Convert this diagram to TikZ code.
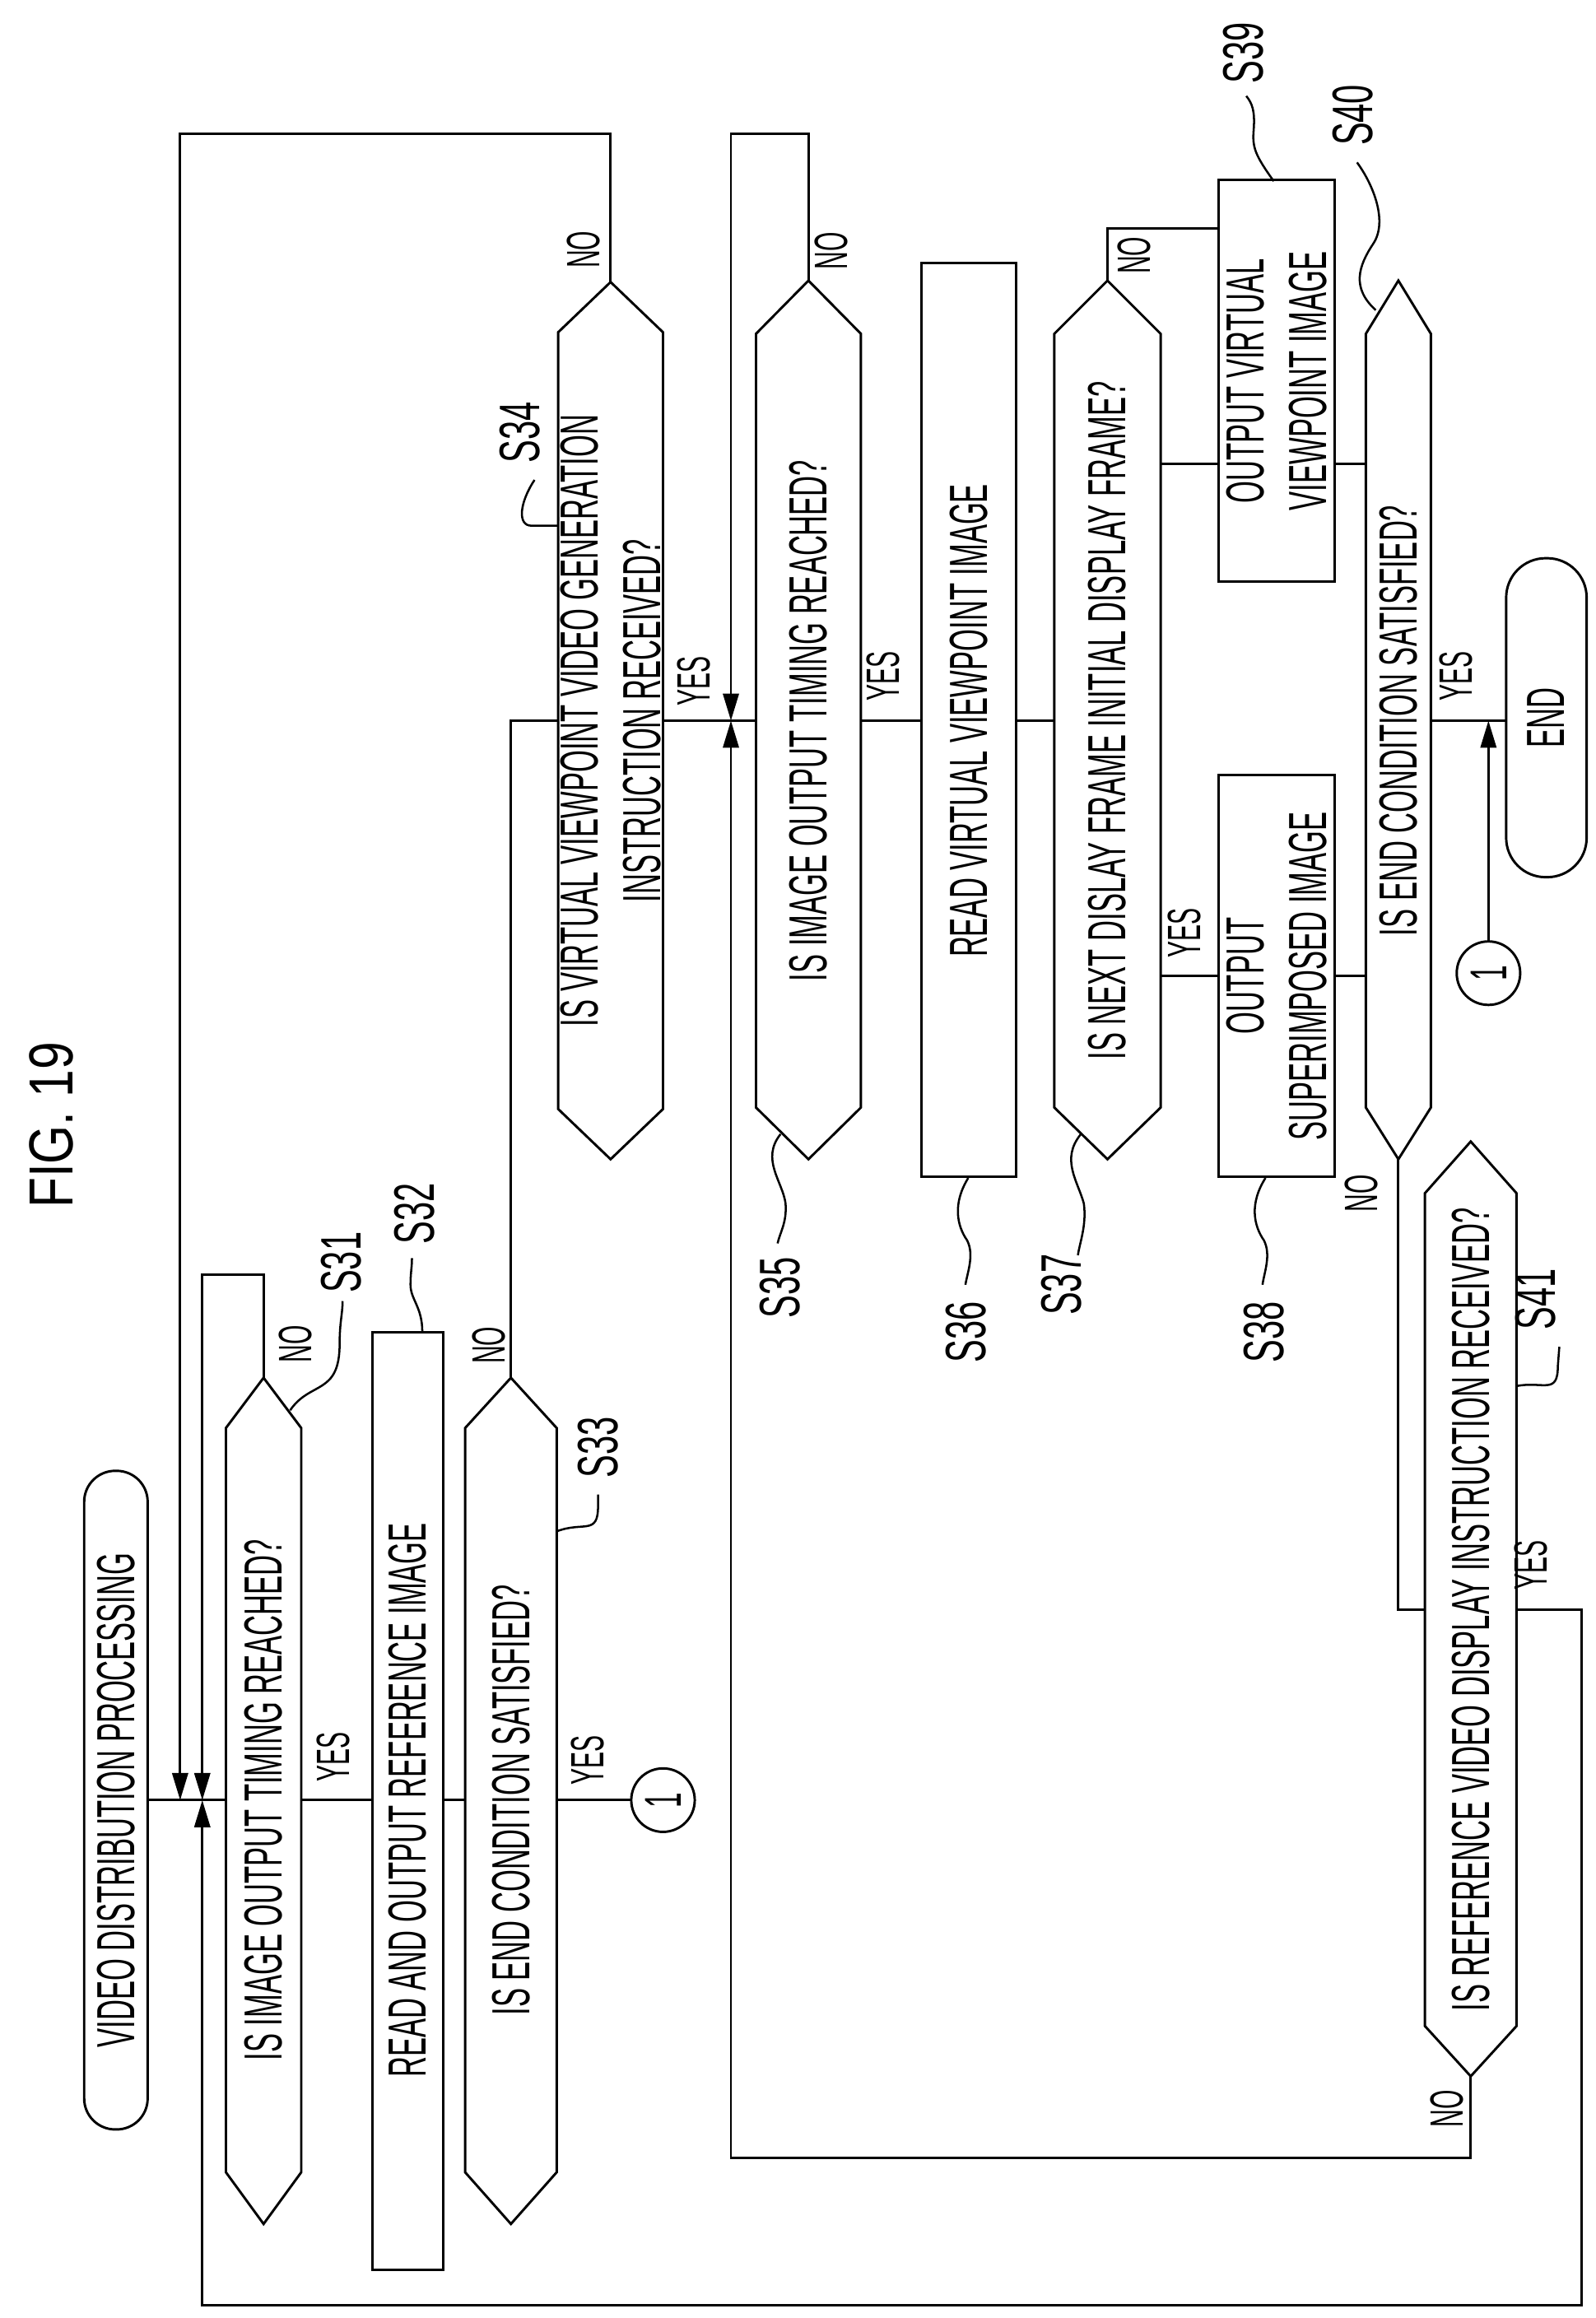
\documentclass[tikz,border=0pt]{standalone}
\usepackage{fontspec}
\usetikzlibrary{arrows.meta}
\newfontfamily\cf[FakeStretch=0.53]{Liberation Sans}
\newfontfamily\lf[FakeStretch=0.6]{Liberation Sans}
\newfontfamily\tf[FakeStretch=0.8]{Liberation Sans}
\tikzset{
  ln/.style={line width=1.4pt},
  arr/.style={ln,-{Triangle[length=0.55cm,width=0.32cm]}},
  txt/.style={rotate=90,font=\cf\fontsize{31}{36}\selectfont,align=center,inner sep=0pt},
  yn/.style={rotate=90,font=\cf\fontsize{27}{30}\selectfont,inner sep=0pt},
  lab/.style={rotate=90,font=\lf\fontsize{33}{36}\selectfont,inner sep=0pt},
  squig/.style={line width=1.2pt}
}
\newcommand\hexa[7]{%
  \draw[ln] ({(#2+#3)/2},#4) -- (#3,#5) -- (#3,#6) -- ({(#2+#3)/2},#7) -- (#2,#6) -- (#2,#5) -- cycle;
  \coordinate (#1t) at ({(#2+#3)/2},#4);
  \coordinate (#1b) at ({(#2+#3)/2},#7);}
\begin{document}
\begin{tikzpicture}[x=0.03cm,y=-0.03cm]
\useasboundingbox (0,0) rectangle (1080.3,1569.7);
\node[rotate=90,font=\tf\fontsize{36}{40}\selectfont] (title) at (35,762) {FIG. 19};
% shapes
\draw[ln,rounded corners=0.63cm] (57,996) rectangle (100,1442);
\node[txt] (start) at (78.5,1219) {VIDEO DISTRIBUTION PROCESSING};
\hexa{h31}{153}{204}{933}{967}{1471}{1506}
\node[txt] (s31) at (178.5,1219) {IS IMAGE OUTPUT TIMING REACHED?};
\draw[ln] (252,902) rectangle (300,1537);
\node[txt] (s32) at (276,1219) {READ AND OUTPUT REFERENCE IMAGE};
\hexa{h33}{315}{377}{933}{967}{1471}{1506}
\node[txt] (s33) at (346,1219) {IS END CONDITION SATISFIED?};
\draw[ln] (449,1219) circle (21.5);
\node[yn,font=\cf\fontsize{30}{30}\selectfont] (c1) at (449,1219) {1};
\hexa{h34}{378}{449}{191}{225}{751}{785}
\node[txt] (s34) at (413.5,488) {IS VIRTUAL VIEWPOINT VIDEO GENERATION\\INSTRUCTION RECEIVED?};
\hexa{h35}{512}{583}{190}{226}{750}{785}
\node[txt] (s35) at (547.5,488) {IS IMAGE OUTPUT TIMING REACHED?};
\draw[ln] (624,178) rectangle (688,797);
\node[txt] (s36) at (656,488) {READ VIRTUAL VIEWPOINT IMAGE};
\hexa{h37}{714}{786}{190}{226}{750}{785}
\node[txt] (s37) at (750,488) {IS NEXT DISLAY FRAME INITIAL DISPLAY FRAME?};
\draw[ln] (825,525) rectangle (904,797);
\node[txt] (s38) at (864.5,661) {OUTPUT\\SUPERIMPOSED IMAGE};
\draw[ln] (825,122) rectangle (904,394);
\node[txt] (s39) at (864.5,258) {OUTPUT VIRTUAL\\VIEWPOINT IMAGE};
\hexa{h40}{925}{969}{190}{226}{750}{785}
\node[txt] (s40) at (947,488) {IS END CONDITION SATISFIED?};
\draw[ln,rounded corners=0.8cm] (1020,378) rectangle (1074.5,594);
\node[txt] (endn) at (1047,486) {END};
\draw[ln] (1008,659) circle (21.5);
\node[yn,font=\cf\fontsize{30}{30}\selectfont] (c2) at (1008,659) {1};
\hexa{h41}{965}{1027}{773}{808}{1372}{1406}
\node[txt] (s41) at (996,1090) {IS REFERENCE VIDEO DISPLAY INSTRUCTION RECEIVED?};
% connectors
\draw[ln] (100,1219) -- (153,1219);
\draw[arr] (h34t) -- (413.5,90.5) -- (122,90.5) -- (122,1219);
\draw[arr] (h31t) -- (178.5,863) -- (137,863) -- (137,1219);
\draw[arr] (1027,1090) -- (1071,1090) -- (1071,1561) -- (137,1561) -- (137,1219);
\draw[ln] (204,1219) -- (252,1219);
\draw[ln] (300,1219) -- (315,1219);
\draw[ln] (377,1219) -- (427.5,1219);
\draw[ln] (h33t) -- (346,488) -- (378,488);
\draw[ln] (449,488) -- (512,488);
\draw[arr] (h35t) -- (547.5,90.5) -- (495,90.5) -- (495,488);
\draw[arr] (h41b) -- (996,1461) -- (495,1461) -- (495,488);
\draw[ln] (583,488) -- (624,488);
\draw[ln] (688,488) -- (714,488);
\draw[ln] (h37t) -- (750,154.6) -- (825,154.6);
\draw[ln] (786,314) -- (825,314);
\draw[ln] (786,661) -- (825,661);
\draw[ln] (904,314) -- (925,314);
\draw[ln] (904,661) -- (925,661);
\draw[ln] (969,488) -- (1020,488);
\draw[arr] (1008,637.5) -- (1008,488);
\draw[ln] (h40b) -- (947,1090) -- (965,1090);
% yes/no
\node[yn] at (200,910) {NO};
\node[yn] at (226,1190) {YES};
\node[yn] at (331,911) {NO};
\node[yn] at (398,1192) {YES};
\node[yn] at (395,169) {NO};
\node[yn] at (470,461) {YES};
\node[yn] at (563,170) {NO};
\node[yn] at (598,458) {YES};
\node[yn] at (768,173) {NO};
\node[yn] at (802,632) {YES};
\node[yn] at (986,458) {YES};
\node[yn] at (922,808) {NO};
\node[yn] at (1037,1060) {YES};
\node[yn] at (980,1428) {NO};
% step labels
\node[lab] (l31) at (231,855) {S31};
\draw[squig] (196.5,955) .. controls (210,935) and (230,945) .. (230,910) .. controls (230,895) and (232,890) .. (232,881);
\node[lab] (l32) at (281,822) {S32};
\draw[squig] (286,902) .. controls (286,885) and (278,880) .. (278,870) .. controls (278,862) and (279,858) .. (279,852);
\node[lab] (l33) at (405,980) {S33};
\draw[squig] (377,1037) .. controls (395,1030) and (405,1040) .. (405,1020) -- (405,1012);
\node[lab] (l34) at (352,293) {S34};
\draw[squig] (378,356) -- (360,356) .. controls (350,356) and (352,340) .. (362,325);
\node[lab] (l35) at (528,872) {S35};
\draw[squig] (528.6,768) .. controls (515,785) and (530,800) .. (532,815) .. controls (533,828) and (528,835) .. (526.6,842);
\node[lab] (l36) at (654,902) {S36};
\draw[squig] (655.7,797.7) .. controls (645,815) and (648,830) .. (655,840) .. controls (660,850) and (655,862) .. (653.8,870);
\node[lab] (l37) at (719,870) {S37};
\draw[squig] (732,768) .. controls (718,785) and (730,800) .. (734,815) .. controls (736,830) and (731,842) .. (730,850);
\node[lab] (l38) at (856,902) {S38};
\draw[squig] (857,797.7) .. controls (846,815) and (849,830) .. (856,840) .. controls (861,850) and (856,862) .. (855,870);
\node[lab] (l39) at (842,36) {S39};
\draw[squig] (862.6,122.7) .. controls (850,105) and (848,100) .. (849,88) .. controls (850,75) and (848,70) .. (844,65);
\node[lab] (l40) at (916,78) {S40};
\draw[squig] (931.7,210) .. controls (915,195) and (920,180) .. (930,165) .. controls (940,150) and (930,125) .. (919,110);
\node[lab] (l41) at (1040,880) {S41};
\draw[squig] (1027,938.6) .. controls (1045,935) and (1055,945) .. (1055,925) -- (1056,912);
\end{tikzpicture}
\end{document}
